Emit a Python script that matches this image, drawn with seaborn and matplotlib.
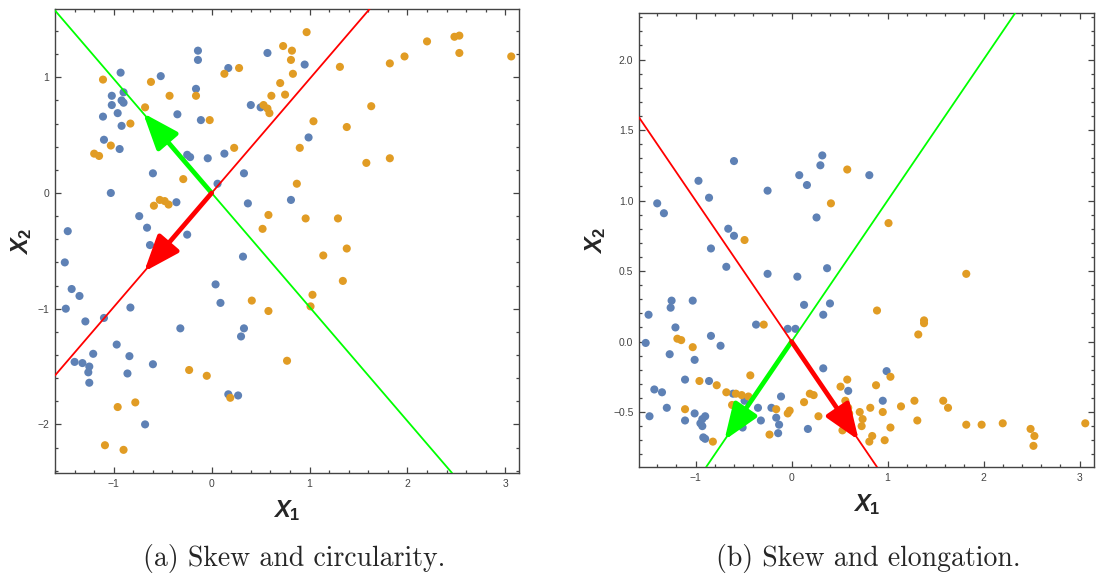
import matplotlib
matplotlib.use("Agg")
import matplotlib.pyplot as plt
import pandas as pd
import seaborn as sns
from matplotlib.ticker import MultipleLocator, FuncFormatter

# --- panel (a): skew and circularity ---
a_blue_x = [-0.14, -0.14, 0.57, -0.93, -0.52, 0.17, -0.90, -1.02, -1.02, -0.92,
            -0.90, -0.96, -1.11, -0.35, -0.16, -0.11, -0.92, 0.40, 0.50, -1.10,
            -0.94, -0.25, -0.22, -0.04, 0.13, 0.33, -0.60, 0.06, -1.03, -0.36,
            0.37, 0.81, -0.74, -0.66, -1.47, -0.25, -0.49, 0.95, 0.99, -0.63,
            -1.50, 0.32, -1.43, -1.35, -1.49, -1.29, -1.10, -0.83, 0.04, 0.09,
            -0.32, 0.33, 0.30, -0.97, -1.21, -1.40, -1.32, -1.25, -1.26, -1.25,
            -0.84, -0.86, -0.60, 0.17, 0.27, -0.68]
a_blue_y = [1.23, 1.15, 1.21, 1.04, 1.01, 1.08, 0.87, 0.84, 0.76, 0.80,
            0.78, 0.69, 0.66, 0.68, 0.90, 0.63, 0.58, 0.76, 0.74, 0.46,
            0.38, 0.33, 0.31, 0.30, 0.34, 0.17, 0.17, 0.08, 0.00, -0.08,
            -0.09, -0.06, -0.20, -0.30, -0.33, -0.36, 0.49, 1.11, 0.48, -0.45,
            -0.60, -0.55, -0.83, -0.89, -1.00, -1.11, -1.08, -0.99, -0.79, -0.95,
            -1.17, -1.17, -1.24, -1.31, -1.39, -1.46, -1.47, -1.50, -1.55, -1.64,
            -1.41, -1.56, -1.48, -1.74, -1.75, -2.00]
a_orange_x = [0.73, 0.82, 0.81, 0.83, 0.70, 0.61, 0.75, 0.53, 0.57, 0.59,
              0.28, 0.13, -1.11, -0.62, -0.43, -0.16, -0.68, -0.02, -0.83, -1.03,
              -1.20, -1.15, 0.23, -0.29, 0.90, 0.87, -0.53, -0.48, -0.44, -0.59,
              0.58, 0.52, 0.97, 1.31, 1.82, 1.97, 2.20, 2.48, 2.53, 2.53,
              3.06, 1.63, 1.04, 1.38, 1.58, 1.82, 0.96, 1.29, 0.41, 0.58,
              0.77, -0.23, -0.05, 0.19, -0.96, -0.78, -1.09, -0.90, 1.14, 1.38,
              1.34, 1.03, 1.01]
a_orange_y = [1.27, 1.23, 1.15, 1.03, 0.95, 0.84, 0.85, 0.76, 0.73, 0.69,
              1.08, 1.03, 0.98, 0.96, 0.84, 0.84, 0.74, 0.63, 0.60, 0.41,
              0.34, 0.32, 0.39, 0.12, 0.39, 0.08, -0.06, -0.07, -0.10, -0.11,
              -0.19, -0.31, 1.39, 1.09, 1.12, 1.18, 1.31, 1.35, 1.36, 1.21,
              1.18, 0.75, 0.62, 0.57, 0.26, 0.30, -0.22, -0.22, -0.93, -1.02,
              -1.45, -1.53, -1.58, -1.77, -1.85, -1.81, -2.18, -2.22, -0.54, -0.48,
              -0.76, -0.88, -0.98]
a_red_tip = (-0.69, -0.68)
a_green_tip = (-0.70, 0.69)

# --- panel (b): skew and elongation ---
b_blue_x = [-1.40, -1.33, -0.97, -0.86, -0.60, -0.66, -0.60, -0.25, 0.08, 0.16,
            0.30, 0.32, 0.26, 0.81, -0.84, -0.68, -0.25, 0.06, 0.37, -1.49,
            -1.25, -1.26, -1.03, 0.13, 0.40, 0.33, -1.21, -0.37, -0.04, 0.04,
            -1.52, -0.84, -0.74, -1.27, -1.01, 0.33, -1.11, -0.86, -1.43, -1.35,
            -0.61, -0.11, -0.49, -0.35, -0.21, -1.30, -1.48, -1.01, -0.90, -0.93,
            -1.11, -0.95, -0.93, -0.32, -0.16, -0.13, -0.14, -0.51, 0.17, -0.92,
            -0.90, 0.59, 0.99, 0.95]
b_blue_y = [0.98, 0.91, 1.14, 1.02, 1.28, 0.80, 0.75, 1.07, 1.18, 1.11,
            1.25, 1.32, 0.88, 1.18, 0.66, 0.53, 0.48, 0.46, 0.52, 0.19,
            0.29, 0.24, 0.29, 0.26, 0.27, 0.19, 0.10, 0.12, 0.09, 0.09,
            -0.01, 0.04, -0.03, -0.09, -0.13, -0.19, -0.27, -0.28, -0.34, -0.36,
            -0.37, -0.39, -0.42, -0.47, -0.47, -0.47, -0.53, -0.51, -0.53, -0.55,
            -0.56, -0.58, -0.60, -0.56, -0.54, -0.59, -0.65, -0.61, -0.62, -0.68,
            -0.69, -0.35, -0.21, -0.42]
b_orange_x = [0.58, 0.41, -0.49, 1.01, 0.89, -0.29, -1.19, -1.15, -1.03, -0.43,
              -0.96, -0.78, -0.68, -0.58, -0.52, -0.45, -0.62, -1.11, -0.16, -0.02,
              -0.04, -0.82, -0.23, 0.13, 0.19, 0.23, 0.28, 0.51, 0.58, 0.56,
              0.59, 0.53, 0.71, 0.74, 0.73, 0.84, 0.81, 0.82, 0.88, 1.32,
              1.03, 0.60, 0.95, 1.14, 1.28, 1.31, 1.03, 0.97, 1.82, 1.38,
              1.38, 1.58, 1.63, 1.82, 1.98, 2.20, 2.49, 2.53, 2.52, 3.06]
b_orange_y = [1.22, 0.98, 0.72, 0.84, 0.22, 0.12, 0.02, 0.01, -0.04, -0.24,
              -0.28, -0.31, -0.36, -0.37, -0.38, -0.39, -0.45, -0.48, -0.48, -0.49,
              -0.51, -0.71, -0.66, -0.43, -0.37, -0.38, -0.53, -0.32, -0.27, -0.42,
              -0.47, -0.63, -0.50, -0.55, -0.60, -0.67, -0.71, -0.47, -0.31, 0.05,
              -0.25, -0.51, -0.50, -0.46, -0.42, -0.56, -0.61, -0.70, 0.48, 0.15,
              0.13, -0.42, -0.47, -0.59, -0.59, -0.58, -0.62, -0.67, -0.74, -0.58]
b_red_tip = (0.70, -0.70)
b_green_tip = (-0.70, -0.70)

BLUE = "#5E81B5"
ORANGE = "#E19C24"
RED = "#FF0000"
GREEN = "#00FF00"
FRAME = "#444444"

sns.set_style("ticks")
plt.rcParams["font.family"] = ["Liberation Sans", "DejaVu Sans"]
plt.rcParams["mathtext.fontset"] = "custom"
plt.rcParams["mathtext.it"] = "Liberation Sans:italic:bold"
plt.rcParams["mathtext.bf"] = "Liberation Sans:bold"
plt.rcParams["mathtext.rm"] = "Liberation Sans:bold"


def minus_formatter(fmt):
    return FuncFormatter(lambda v, pos: (fmt % v).replace("-", "\u2212"))


def draw_panel(ax, bx, by, ox, oy, red_tip, green_tip, xlim, ylim,
               ymajor, yminor, yfmt):
    df = pd.DataFrame({
        "x1": bx + ox,
        "x2": by + oy,
        "group": ["blue"] * len(bx) + ["orange"] * len(ox),
    })
    sns.scatterplot(data=df, x="x1", y="x2", hue="group",
                    palette={"blue": BLUE, "orange": ORANGE},
                    s=34, linewidth=0, legend=False, ax=ax, zorder=2)

    # principal directions through the origin
    ax.axline((0, 0), red_tip, color=RED, lw=1.3, zorder=3)
    ax.axline((0, 0), green_tip, color=GREEN, lw=1.3, zorder=3)
    for tip, colour in ((green_tip, GREEN), (red_tip, RED)):
        ax.annotate("", xy=tip, xytext=(0, 0),
                    arrowprops=dict(arrowstyle="-|>,head_length=1.1,head_width=0.42",
                                    color=colour, lw=3.4, shrinkA=0, shrinkB=0,
                                    mutation_scale=20),
                    zorder=4)

    ax.set_xlim(*xlim)
    ax.set_ylim(*ylim)
    ax.xaxis.set_major_locator(MultipleLocator(1))
    ax.xaxis.set_minor_locator(MultipleLocator(0.2))
    ax.yaxis.set_major_locator(MultipleLocator(ymajor))
    ax.yaxis.set_minor_locator(MultipleLocator(yminor))
    ax.yaxis.set_major_formatter(minus_formatter(yfmt))
    ax.xaxis.set_major_formatter(minus_formatter("%d"))
    ax.tick_params(which="both", direction="in", top=True, right=True,
                   color=FRAME, width=0.9, labelsize=7.5, labelcolor="#444444")
    ax.tick_params(which="major", length=4.5, pad=4)
    ax.tick_params(which="minor", length=2.5)
    for spine in ax.spines.values():
        spine.set_visible(True)
        spine.set_color(FRAME)
        spine.set_linewidth(1.0)
    ax.set_xlabel(r"$X_\mathbf{1}$", fontsize=17)
    ax.set_ylabel(r"$X_\mathbf{2}$", fontsize=17)


fig = plt.figure(figsize=(10.96, 5.81), dpi=100)
ax_a = fig.add_axes([0.0502, 0.1859, 0.4234, 0.7986])
ax_b = fig.add_axes([0.5830, 0.1962, 0.4151, 0.7814])

draw_panel(ax_a, a_blue_x, a_blue_y, a_orange_x, a_orange_y,
           a_red_tip, a_green_tip, (-1.60, 3.14), (-2.42, 1.59), 1, 0.2, "%d")
draw_panel(ax_b, b_blue_x, b_blue_y, b_orange_x, b_orange_y,
           b_red_tip, b_green_tip, (-1.59, 3.15), (-0.89, 2.33), 0.5, 0.1, "%.1f")

ax_a.xaxis.set_label_coords(0.5, -0.055)
ax_a.yaxis.set_label_coords(-0.045, 0.5)
ax_b.xaxis.set_label_coords(0.5, -0.055)
ax_b.yaxis.set_label_coords(-0.068, 0.5)

fig.text(0.268, 0.039, "(a) Skew and circularity.", family="cmr10",
         fontsize=20, ha="center", va="center")
fig.text(0.792, 0.039, "(b) Skew and elongation.", family="cmr10",
         fontsize=20, ha="center", va="center")

fig.savefig("out.png", dpi=100)
